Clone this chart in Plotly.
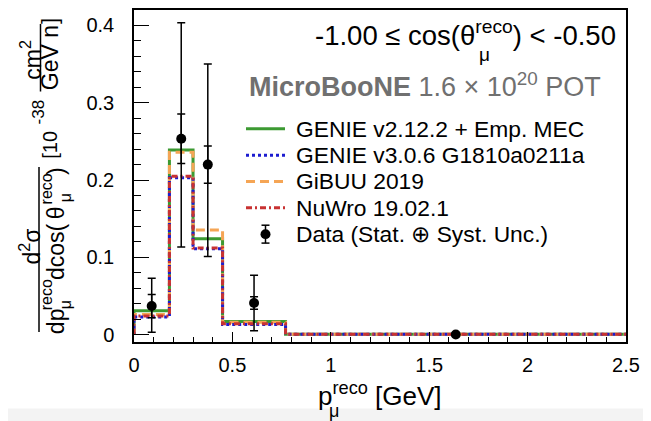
import plotly.graph_objects as go

# ---------------- data ----------------
bin_edges = [0.0, 0.18, 0.30, 0.45, 0.77, 2.5]
genie_v2 = [0.031, 0.239, 0.124, 0.017, 0.0006]
genie_v3 = [0.023, 0.203, 0.111, 0.013, 0.0004]
gibuu = [0.026, 0.236, 0.1355, 0.016, 0.0005]
nuwro = [0.024, 0.205, 0.112, 0.014, 0.0005]
data_y = [0.037, 0.2535, 0.220, 0.041, 0.0003]
err_total_up = [0.036, 0.150, 0.130, 0.036, 0.0004]
err_total_down = [0.034, 0.140, 0.119, 0.036, 0.0003]
err_stat = [0.015, 0.032, 0.024, 0.008, 0.0002]
x_ticks = [0, 0.5, 1, 1.5, 2, 2.5]
y_ticks = [0, 0.1, 0.2, 0.3, 0.4]

model_names = ["GENIE v2.12.2 + Emp. MEC", "GENIE v3.0.6 G1810a0211a", "GiBUU 2019", "NuWro 19.02.1"]
data_name = "Data (Stat. \u2295 Syst. Unc.)"

# ---------------- layout geometry (absolute window pixels) ----------------
WIN_W, WIN_H = 651, 421
OFF = 8  # default page body margin
L, R, T, B = 134, 626, 8, 342
PW, PH = R - L, B - T
FONT = "Liberation Sans, Arial, Helvetica, sans-serif"


def X(px):
    return (px - L) / PW


def Y(py):
    return (B - py) / PH


data_x = [(bin_edges[i] + bin_edges[i + 1]) / 2 for i in range(len(bin_edges) - 1)]


def step(vals):
    xs = [bin_edges[0]] + list(bin_edges)
    ys = [0.0] + list(vals) + [vals[-1]]
    return xs, ys


fig = go.Figure()

colors = {model_names[0]: "#3c9a32", model_names[1]: "#1c1cd0",
          model_names[2]: "#f5a555", model_names[3]: "#c83232"}
dashes = {model_names[0]: "solid", model_names[1]: "3px,3px",
          model_names[2]: "9px,5px", model_names[3]: "6px,3px,2px,3px"}
series = {model_names[0]: genie_v2, model_names[1]: genie_v3,
          model_names[2]: gibuu, model_names[3]: nuwro}
draw_order = [model_names[0], model_names[2], model_names[1], model_names[3]]
for name in draw_order:
    xs, ys = step(series[name])
    fig.add_trace(go.Scatter(
        x=xs, y=ys, mode="lines", name=name, line_shape="hv", showlegend=False,
        line=dict(color=colors[name], width=3, dash=dashes[name]),
    ))

# stat-only error bars (inner caps)
fig.add_trace(go.Scatter(
    x=data_x, y=data_y, mode="markers", showlegend=False,
    marker=dict(size=1, color="rgba(0,0,0,0)"),
    error_y=dict(type="data", array=err_stat, color="black", thickness=1.5, width=4),
    hoverinfo="skip",
))
# total error bars + markers
fig.add_trace(go.Scatter(
    x=data_x, y=data_y, mode="markers", name=data_name, showlegend=False,
    marker=dict(size=10, color="black"),
    error_y=dict(type="data", symmetric=False, array=err_total_up, arrayminus=err_total_down,
                 color="black", thickness=1.5, width=4),
))

ann = []
shapes = []


def rot(text, px, py, size):
    ann.append(dict(text=text, x=X(px), y=Y(py), xref="paper", yref="paper",
                    xanchor="center", yanchor="middle", textangle=-90, showarrow=False,
                    font=dict(family=FONT, size=size, color="black")))


def hor(text, px, py, size, xanchor="center", color="black"):
    ann.append(dict(text=text, x=X(px), y=Y(py), xref="paper", yref="paper",
                    xanchor=xanchor, yanchor="middle", showarrow=False,
                    font=dict(family=FONT, size=size, color=color)))


def seg(x0, y0, x1, y1, color="black", width=1.5, dash="solid"):
    shapes.append(dict(type="line", xref="paper", yref="paper", x0=X(x0), x1=X(x1),
                       y0=Y(y0), y1=Y(y1), line=dict(color=color, width=width, dash=dash)))


# y-axis title pieces (rotated, reading bottom -> top)
rot("d<sup>2</sup>\u03c3", 30, 246, 23)
rot("dp", 56, 321, 23)
rot("reco", 46, 295, 16)
rot("\u03bc", 65, 305, 16)
rot("dcos(", 56, 251.5, 23)
rot("\u03b8", 56, 212.5, 23)
rot("reco", 46, 188.5, 16)
rot("\u03bc", 65, 197.5, 16)
rot(")", 56, 170, 23)
seg(39, 332, 39, 166)
rot("[10", 50, 143.5, 20)
rot("-38", 38, 111, 17)
rot("cm<sup>2</sup>", 31, 58, 23)
rot("GeV n", 49.5, 56, 23)
seg(40.5, 90, 40.5, 22)
rot("]", 50, 19, 22)

# x-axis title
hor("p<sup>reco</sup> [GeV]", 380, 395, 26)
hor("\u03bc", 334, 411, 18)

# top-right texts
hor("-1.00 \u2264 cos(\u03b8<sup>reco</sup>) < -0.50", 618, 32, 27.5, xanchor="right")
hor("\u03bc", 484, 53, 19)
hor("<b>MicroBooNE</b> 1.6 \u00d7 10<sup>20</sup> POT", 247, 83, 27, xanchor="left", color="#707070")

# legend (drawn by hand to match the original box geometry)
rows = [127.5, 154, 180.5, 207, 233.5]
for name, py in zip(model_names, rows[:4]):
    seg(246, py, 285, py, color=colors[name], width=3, dash=dashes[name])
    hor(name, 294, py, 22.8, xanchor="left")
py = rows[4]
seg(265.5, py - 9, 265.5, py + 9)
seg(261.5, py - 9, 269.5, py - 9)
seg(261.5, py + 9, 269.5, py + 9)
shapes.append(dict(type="circle", xref="paper", yref="paper",
                   x0=X(260.5), x1=X(270.5), y0=Y(py - 5), y1=Y(py + 5),
                   fillcolor="black", line=dict(width=0)))
hor(data_name, 294, py, 22.8, xanchor="left")

# light strip at the bottom of the screenshot
shapes.append(dict(type="rect", xref="paper", yref="paper", x0=X(0), x1=X(WIN_W), y0=Y(409), y1=Y(WIN_H + 2),
                   line=dict(width=0), fillcolor="#f3f3f3", layer="below"))

fig.update_layout(
    width=WIN_W - OFF, height=WIN_H - OFF,
    margin=dict(l=L - OFF, r=WIN_W - R, t=T - OFF, b=WIN_H - B, pad=0),
    paper_bgcolor="white", plot_bgcolor="white",
    font=dict(family=FONT, color="black"),
    showlegend=False,
    annotations=ann, shapes=shapes,
    xaxis=dict(range=[0, 2.5], tickvals=x_ticks, ticks="inside", ticklen=10, tickwidth=1.2,
               tickcolor="black", minor=dict(ticks="inside", ticklen=5, dtick=0.1, tickcolor="black", tickwidth=1.2),
               showline=True, linecolor="black", linewidth=1.5, mirror=True,
               showgrid=False, zeroline=False, tickfont=dict(size=20, family=FONT),
               ticklabelstandoff=4),
    yaxis=dict(range=[-0.0095, 0.42], tickvals=y_ticks, ticks="inside", ticklen=15, tickwidth=1.2,
               tickcolor="black", minor=dict(ticks="inside", ticklen=7.5, dtick=0.02, tickcolor="black", tickwidth=1.2),
               showline=True, linecolor="black", linewidth=1.5, mirror=True,
               showgrid=False, zeroline=False, tickfont=dict(size=20, family=FONT),
               ticklabelstandoff=14),
)

fig.write_html("out.html")
